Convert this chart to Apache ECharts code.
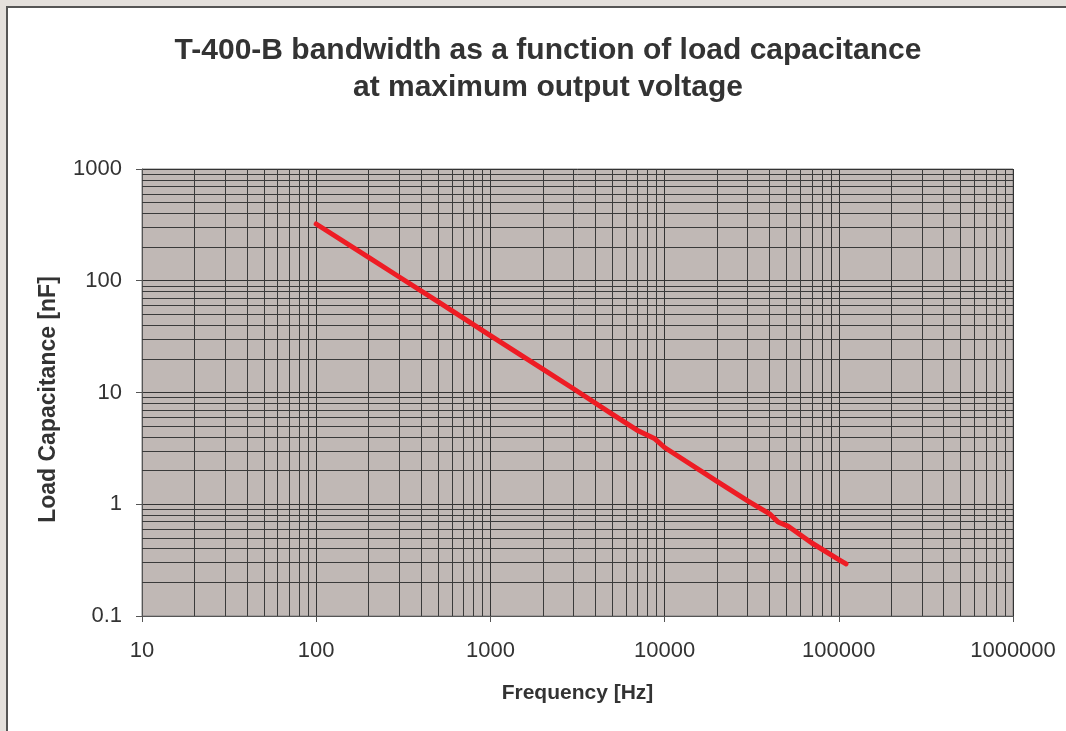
<!DOCTYPE html>
<html>
<head>
<meta charset="utf-8">
<script src="https://cdn.jsdelivr.net/npm/echarts@6/dist/echarts.min.js"></script>
<style>
html,body{margin:0;padding:0;background:#e4e0dc;}
#chart{width:1066px;height:731px;}
</style>
</head>
<body>
<div id="chart"></div>
<script>
// Data
const frequencyHz = [100, 200, 300, 500, 1000, 2000, 3000, 5000, 6950, 8800, 10000, 20000, 30000, 40300, 44800, 51000, 70000, 100000, 110000];
const capacitanceNF = [322, 162, 108, 65, 32.3, 16.2, 10.8, 6.4, 4.6, 3.85, 3.22, 1.6, 1.07, 0.815, 0.693, 0.638, 0.45, 0.32, 0.292];
const xTicks = [10, 100, 1000, 10000, 100000, 1000000];
const yTicks = [0.1, 1, 10, 100, 1000];
const titleLines = ['T-400-B bandwidth as a function of load capacitance', 'at maximum output voltage'];
const xName = 'Frequency [Hz]';
const yName = 'Load Capacitance [nF]';

function minorLines(ticks) {
  const out = [];
  for (let i = 0; i < ticks.length - 1; i++) {
    for (let m = 2; m <= 9; m++) out.push(ticks[i] * m);
  }
  return out;
}
const gridLines = [];
minorLines(xTicks).forEach(v => gridLines.push({xAxis: v}));
minorLines(yTicks).forEach(v => gridLines.push({yAxis: v}));

const chart = echarts.init(document.getElementById('chart'), null, {renderer: 'canvas'});
const font = '"Liberation Sans", Arial, sans-serif';
chart.setOption({
  animation: false,
  backgroundColor: '#e4e0dc',
  graphic: [
    {type: 'rect', shape: {x: 6, y: 6, width: 1100, height: 800}, style: {fill: '#555555'}, z: -10},
    {type: 'rect', shape: {x: 8, y: 8, width: 1100, height: 800}, style: {fill: '#ffffff'}, z: -9},
    {type: 'text', x: 548, y: 32, style: {text: titleLines.join('\n'), font: 'bold 30px ' + font, fill: '#333333', textAlign: 'center', textVerticalAlign: 'top', lineHeight: 37}}
  ],
  grid: {left: 142, top: 169, right: 53, bottom: 115, show: true, backgroundColor: '#c0b8b5', borderColor: '#808080', borderWidth: 1},
  xAxis: {
    type: 'log', logBase: 10, min: xTicks[0], max: xTicks[xTicks.length - 1], splitNumber: 5,
    name: xName, nameLocation: 'middle', nameGap: 67,
    nameTextStyle: {fontFamily: font, fontWeight: 'bold', fontSize: 21, color: '#333'},
    axisLine: {show: true, lineStyle: {color: '#555', width: 1}},
    axisTick: {show: true, length: 6, lineStyle: {color: '#555'}},
    axisLabel: {fontFamily: font, fontSize: 22, color: '#333', margin: 24, formatter: v => String(v)},
    splitLine: {show: true, lineStyle: {color: '#333', width: 1}}
  },
  yAxis: {
    type: 'log', logBase: 10, min: yTicks[0], max: yTicks[yTicks.length - 1], splitNumber: 4,
    name: yName, nameLocation: 'middle', nameGap: 82, nameRotate: 90,
    nameTextStyle: {fontFamily: font, fontWeight: 'bold', fontSize: 23, color: '#333', padding: [0, 14, 0, 0]},
    axisLine: {show: true, lineStyle: {color: '#555', width: 1}},
    axisTick: {show: true, length: 6, lineStyle: {color: '#555'}},
    axisLabel: {fontFamily: font, fontSize: 22, color: '#333', margin: 20, formatter: v => String(v)},
    splitLine: {show: true, lineStyle: {color: '#333', width: 1}}
  },
  series: [
    {
      type: 'line', data: [], silent: true, z: 1,
      markLine: {silent: true, symbol: ['none', 'none'], label: {show: false}, animation: false,
        lineStyle: {color: '#3a3a3a', width: 1, type: 'solid'}, emphasis: {disabled: true}, data: gridLines}
    },
    {
      type: 'line', z: 5, symbol: 'none', silent: true,
      data: frequencyHz.map((f, i) => [f, capacitanceNF[i]]),
      lineStyle: {color: '#ee1c24', width: 5, cap: 'round', join: 'round'}
    }
  ]
});
</script>
</body>
</html>
